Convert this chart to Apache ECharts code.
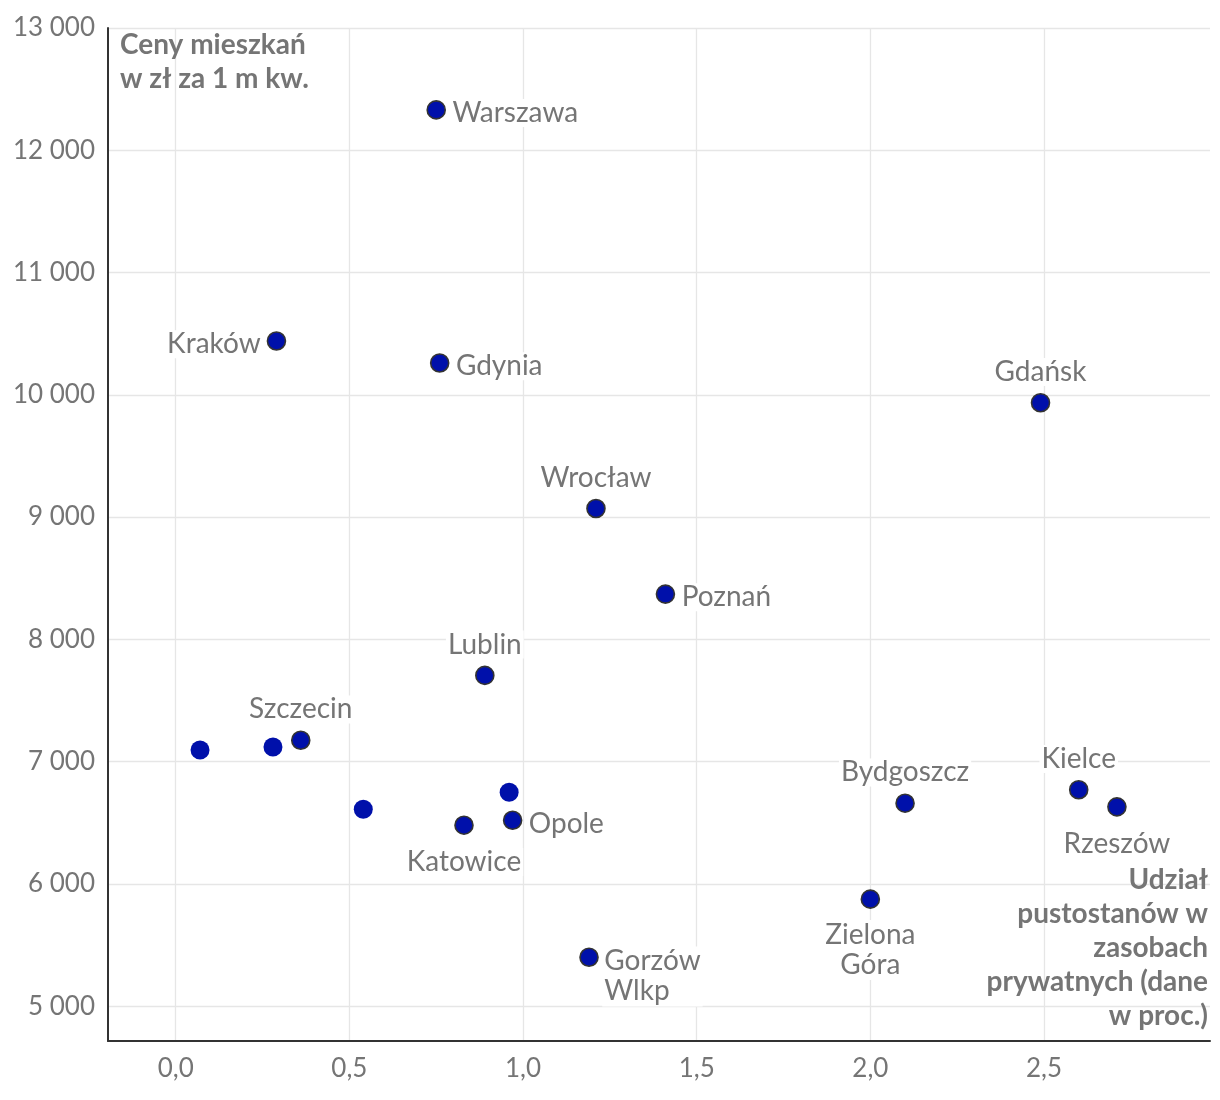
<!DOCTYPE html>
<html>
<head>
<meta charset="utf-8">
<script src="https://cdn.jsdelivr.net/npm/echarts@6/dist/echarts.min.js"></script>
<style>
  html, body { margin: 0; padding: 0; background: #fff; }
  #chart { width: 1220px; height: 1100px; }
</style>
</head>
<body>
<div id="chart"></div>
<script>
// ---- data ----
const cities = ['Warszawa', 'Kraków', 'Gdynia', 'Gdańsk', 'Wrocław', 'Poznań', 'Lublin', 'Szczecin',
  '', '', '', '', 'Opole', 'Katowice', 'Gorzów Wlkp', 'Zielona Góra', 'Bydgoszcz', 'Kielce', 'Rzeszów'];
const vacancyShare = [0.75, 0.29, 0.76, 2.49, 1.21, 1.41, 0.89, 0.36,
  0.07, 0.28, 0.54, 0.96, 0.97, 0.83, 1.19, 2.00, 2.10, 2.60, 2.71];
const pricePerSqm = [12330, 10440, 10260, 9935, 9070, 8370, 7705, 7175,
  7095, 7120, 6610, 6750, 6520, 6480, 5400, 5875, 6660, 6770, 6630];
const yAxisTitleLines = ['Ceny mieszkań', 'w zł za 1 m kw.'];
const xAxisTitleLines = ['Udział', 'pustostanów w', 'zasobach', 'prywatnych (dane', 'w proc.)'];

// ---- label placement (style) ----
const labelPlacement = {
  'Warszawa': 'right', 'Kraków': 'left', 'Gdynia': 'right', 'Gdańsk': 'top',
  'Wrocław': 'top', 'Poznań': 'right', 'Lublin': 'top', 'Szczecin': 'top',
  'Opole': 'right', 'Katowice': 'bottom', 'Gorzów Wlkp': 'gorzow',
  'Zielona Góra': 'bottom', 'Bydgoszcz': 'top', 'Kielce': 'top', 'Rzeszów': 'bottom'
};

const FONT = 'Lato';
const GREY = '#757575';
const DOT = '#0010aa';

const seriesData = cities.map((name, i) => {
  const labelled = name !== '';
  const item = {
    name: name,
    value: [vacancyShare[i], pricePerSqm[i]],
    symbolSize: labelled ? 18 : 19,
    itemStyle: labelled
      ? { color: DOT, opacity: 1, borderColor: '#333333', borderWidth: 1.6 }
      : { color: DOT, opacity: 1, borderWidth: 0 }
  };
  if (labelled) {
    const pos = labelPlacement[name];
    const twoLine = name.indexOf(' ') >= 0;
    const lbl = { show: true, formatter: p => p.name.replace(' ', '\n'), lineHeight: twoLine ? 30 : 28 };
    if (pos === 'gorzow') {
      lbl.position = [23, -1];
      lbl.align = 'left';
      lbl.verticalAlign = 'top';
    } else if (pos === 'top') {
      lbl.position = 'top';
      lbl.distance = 7;
      lbl.align = 'center';
    } else if (pos === 'bottom') {
      lbl.position = 'bottom';
      lbl.distance = twoLine ? 11 : 13;
      lbl.align = 'center';
    } else if (pos === 'right') {
      lbl.position = [24, 13];
      lbl.align = 'left';
      lbl.verticalAlign = 'middle';
    } else {
      lbl.position = [-4, 13];
      lbl.align = 'right';
      lbl.verticalAlign = 'middle';
    }
    item.label = lbl;
  } else {
    item.label = { show: false };
  }
  return item;
});

const fmtThousands = v => String(Math.round(v)).replace(/\B(?=(\d{3})+(?!\d))/g, ' ');
const fmtDecimal = v => v.toFixed(1).replace('.', ',');

const graphicTexts = [];
yAxisTitleLines.forEach((t, i) => graphicTexts.push({
  type: 'text', x: 120, y: 45 + i * 34, z: 100,
  style: { text: t, fill: GREY, font: 'bold 28px Lato', align: 'left', textAlign: 'left', verticalAlign: 'middle', textVerticalAlign: 'middle' }
}));
xAxisTitleLines.forEach((t, i) => graphicTexts.push({
  type: 'text', x: 1208, y: 880 + i * 34, z: 100,
  style: { text: t, fill: GREY, font: 'bold 28px Lato', align: 'right', textAlign: 'right', verticalAlign: 'middle', textVerticalAlign: 'middle' }
}));

const chart = echarts.init(document.getElementById('chart'), null, { renderer: 'canvas' });
chart.setOption({
  animation: false,
  backgroundColor: '#ffffff',
  textStyle: { fontFamily: FONT },
  grid: { left: 108, right: 10, top: 28, bottom: 59, containLabel: false },
  xAxis: {
    type: 'value',
    min: -0.195,
    max: 2.978,
    splitNumber: 6,
    minInterval: 0.5,
    maxInterval: 0.5,
    axisLine: { show: true, onZero: false, lineStyle: { color: '#333333', width: 2 } },
    axisTick: { show: false },
    axisLabel: {
      color: GREY, fontSize: 26, fontFamily: FONT, margin: 15,
      showMinLabel: false, showMaxLabel: false,
      formatter: fmtDecimal
    },
    splitLine: { show: true, showMinLine: false, showMaxLine: false, lineStyle: { color: '#e6e6e6', width: 1.3 } }
  },
  yAxis: {
    type: 'value',
    min: 4715,
    max: 13000,
    splitNumber: 8,
    minInterval: 1000,
    maxInterval: 1000,
    axisLine: { show: true, onZero: false, lineStyle: { color: '#333333', width: 2 } },
    axisTick: { show: false },
    axisLabel: {
      color: GREY, fontSize: 26, fontFamily: FONT, margin: 13,
      showMinLabel: false,
      formatter: fmtThousands
    },
    splitLine: { show: true, showMinLine: false, lineStyle: { color: '#e6e6e6', width: 1.3 } }
  },
  graphic: graphicTexts,
  series: [{
    type: 'scatter',
    data: seriesData,
    symbol: 'circle',
    label: {
      color: GREY, fontSize: 28, fontFamily: FONT,
      backgroundColor: '#ffffff', padding: [0, 2]
    },
    labelLayout: { hideOverlap: false },
    emphasis: { disabled: true }
  }]
});
</script>
</body>
</html>
